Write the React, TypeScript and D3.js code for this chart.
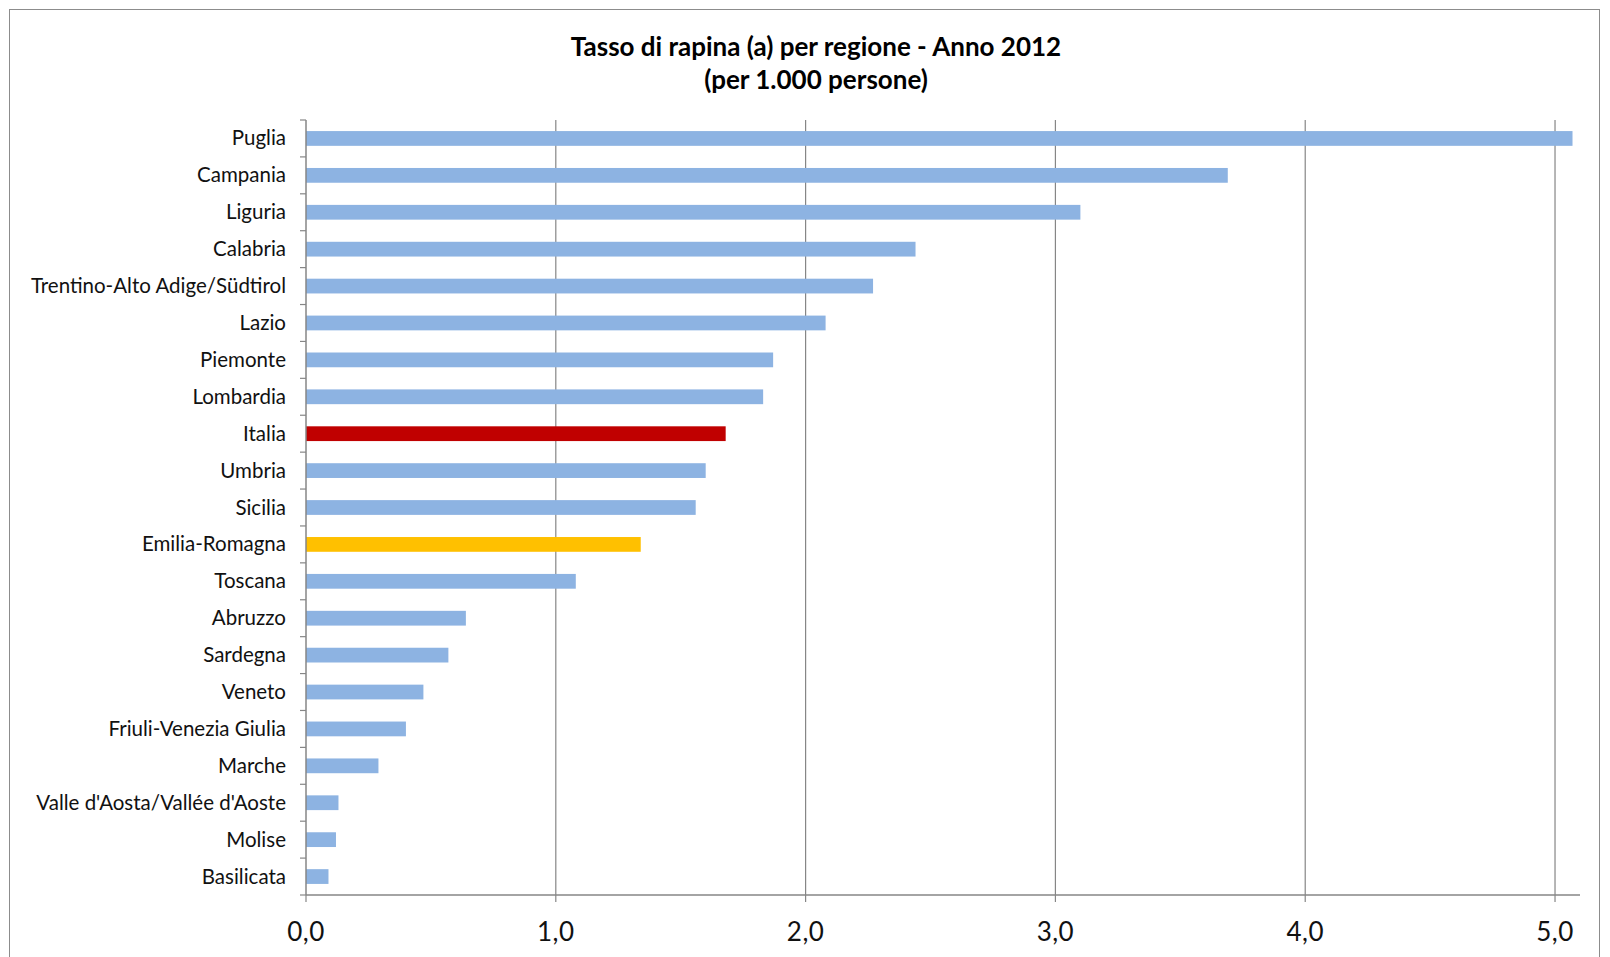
import React, { useEffect, useRef } from "react";
import * as d3 from "d3";

const regions = [
  "Puglia", "Campania", "Liguria", "Calabria", "Trentino-Alto Adige/Südtirol", "Lazio",
  "Piemonte", "Lombardia", "Italia", "Umbria", "Sicilia", "Emilia-Romagna", "Toscana",
  "Abruzzo", "Sardegna", "Veneto", "Friuli-Venezia Giulia", "Marche",
  "Valle d'Aosta/Vallée d'Aoste", "Molise", "Basilicata",
];
const rates = [
  5.07, 3.69, 3.10, 2.44, 2.27, 2.08, 1.87, 1.83, 1.68, 1.60, 1.56, 1.34, 1.08,
  0.64, 0.57, 0.47, 0.40, 0.29, 0.13, 0.12, 0.09,
];
const xTicks = [0, 1, 2, 3, 4, 5];
const titleLines = ["Tasso di rapina (a) per regione - Anno 2012", "(per 1.000 persone)"];

const W = 1610, H = 957;
const M = { left: 306, right: 1580, top: 120, bottom: 895 };
const FONT = "Lato, 'Open Sans', sans-serif";

export default function App() {
  const ref = useRef<SVGSVGElement>(null);
  useEffect(() => {
    const svg = d3.select(ref.current);
    svg.selectAll("*").remove();

    svg.append("rect").attr("x", 0).attr("y", 0).attr("width", W).attr("height", H).attr("fill", "#fff");
    svg.append("rect").attr("x", 9.5).attr("y", 9.5).attr("width", 1590).attr("height", 960)
      .attr("fill", "#fff").attr("stroke", "#8c8c8c").attr("stroke-width", 1);

    const x = d3.scaleLinear().domain([0, 5.1]).range([M.left, M.right]);
    const y = d3.scaleBand().domain(regions).range([M.top, M.bottom]).paddingInner(0.6).paddingOuter(0.3);
    const band = d3.scaleBand().domain(regions).range([M.top, M.bottom]);

    // title
    titleLines.forEach((t, i) => {
      svg.append("text").attr("x", 816).attr("y", 56 + i * 33).attr("text-anchor", "middle")
        .attr("font-family", FONT).attr("font-weight", "bold").attr("font-size", 26)
        .attr("fill", "#000").text(t);
    });

    // gridlines
    svg.append("g").selectAll("line").data(xTicks.slice(1)).join("line")
      .attr("x1", d => x(d)).attr("x2", d => x(d)).attr("y1", M.top).attr("y2", M.bottom)
      .attr("stroke", "#868686").attr("stroke-width", 1.2);

    // bars
    svg.append("g").selectAll("rect").data(regions).join("rect")
      .attr("x", x(0)).attr("y", d => y(d)!)
      .attr("width", (d, i) => x(rates[i]) - x(0)).attr("height", y.bandwidth())
      .attr("fill", d => d === "Italia" ? "#C00000" : d === "Emilia-Romagna" ? "#FFC000" : "#8DB3E2");

    // y axis
    svg.append("line").attr("x1", M.left).attr("x2", M.left).attr("y1", M.top).attr("y2", M.bottom)
      .attr("stroke", "#868686").attr("stroke-width", 1.5);
    const bounds = regions.map(r => band(r)!).concat([M.bottom]);
    svg.append("g").selectAll("line").data(bounds).join("line")
      .attr("x1", M.left - 6).attr("x2", M.left).attr("y1", d => d).attr("y2", d => d)
      .attr("stroke", "#868686").attr("stroke-width", 1.2);
    svg.append("g").selectAll("text").data(regions).join("text")
      .attr("x", M.left - 20).attr("y", d => band(d)! + band.bandwidth() / 2 + 7)
      .attr("text-anchor", "end").attr("font-family", FONT).attr("font-size", 20.5)
      .attr("fill", "#111").text(d => d);

    // x axis
    svg.append("line").attr("x1", M.left).attr("x2", M.right).attr("y1", M.bottom).attr("y2", M.bottom)
      .attr("stroke", "#868686").attr("stroke-width", 1.5);
    svg.append("g").selectAll("line").data(xTicks).join("line")
      .attr("x1", d => x(d)).attr("x2", d => x(d)).attr("y1", M.bottom).attr("y2", M.bottom + 7)
      .attr("stroke", "#868686").attr("stroke-width", 1.2);
    svg.append("g").selectAll("text").data(xTicks).join("text")
      .attr("x", d => x(d)).attr("y", M.bottom + 46).attr("text-anchor", "middle")
      .attr("font-family", FONT).attr("font-size", 26).attr("letter-spacing", 0.5).attr("fill", "#111")
      .text(d => d3.format(".1f")(d).replace(".", ","));
  }, []);
  return <svg ref={ref} width={W} height={H} style={{ position: "absolute", left: 0, top: 0 }} />;
}
